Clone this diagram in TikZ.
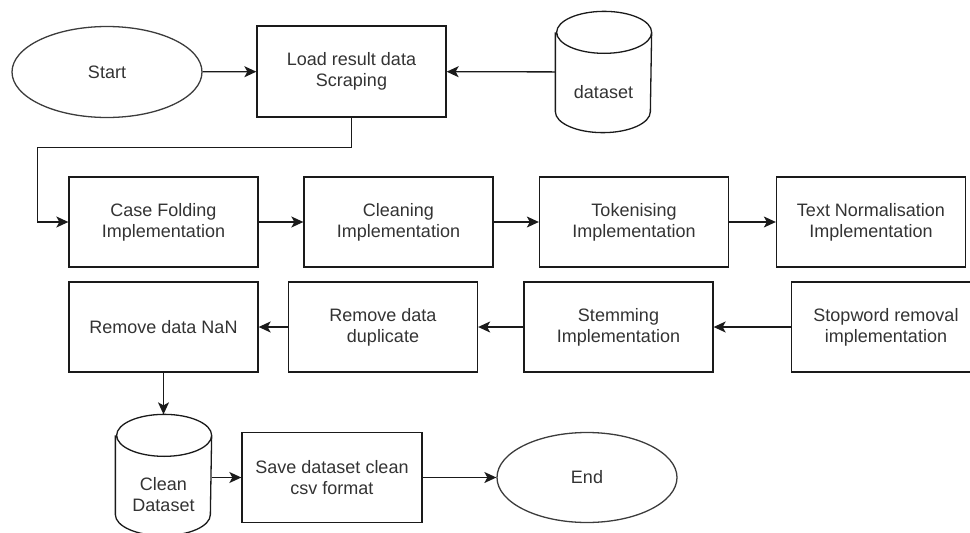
\documentclass[tikz,border=0pt]{standalone}
\usepackage{fontspec}
\setmainfont{Liberation Sans}
\usetikzlibrary{arrows.meta, positioning, shapes.geometric}
\definecolor{cline}{HTML}{1A1A1A}
\definecolor{ctext}{HTML}{333333}
\tikzset{
  every picture/.style={line width=1.3pt},
  box/.style={draw=cline, rectangle, align=center, minimum width=189pt, minimum height=90pt, inner sep=2pt, text=ctext},
  term/.style={draw=cline!85, ellipse, minimum width=190pt, minimum height=91pt, inner sep=0pt, text=ctext},
  db/.style={rectangle, minimum width=95pt, minimum height=120pt, inner sep=0pt},
  dbtext/.style={yshift=-20pt, align=center, text=ctext},
  arrow/.style={-{Stealth[length=12pt, width=11pt, inset=3pt]}, draw=cline},
}

\begin{document}
\begin{tikzpicture}[x=1pt, y=-1pt, every node/.append style={font=\fontsize{18}{21}\selectfont}]
  \path[use as bounding box, clip] (0,0) rectangle (970,533);
  % input
  \node[term] (start) at (107,72) {Start};
  \node[box, minimum height=91pt] (load) at (351.5,71.5) {Load result data\\Scraping};
  \node[db, label={[dbtext]center:dataset}] (data) at (603.5,72) {};
  \draw[arrow] (start) -- (load);
  \draw[arrow] (data) -- (load);
  % preprocessing
  \foreach \n/\x/\t in {cf/163.5/{Case Folding\\Implementation}, cl/398.5/{Cleaning\\Implementation},
      tok/634/{Tokenising\\Implementation}, tn/871/{Text Normalisation\\Implementation}}
    \node[box] (\n) at (\x,222) {\t};
  \foreach \n/\x/\t in {nan/163.5/{Remove data NaN}, dup/383/{Remove data\\duplicate},
      stem/618.5/{Stemming\\Implementation}, stop/886/{Stopword removal\\implementation}}
    \node[box] (\n) at (\x,327) {\t};
  \draw[arrow] (load.south) -- ++(0,30) -| ([xshift=-31pt]cf.west) -- (cf.west);
  \foreach \a/\b in {cf/cl, cl/tok, tok/tn, stop/stem, stem/dup, dup/nan}
    \draw[arrow] (\a) -- (\b);
  % output
  \node[db, label={[dbtext]center:Clean\\Dataset}] (clean) at (163.5,475) {};
  \node[box, minimum width=180pt] (save) at (332,477.5) {Save dataset clean\\csv format};
  \node[term, minimum width=180pt, minimum height=90pt] (end) at (587,477.5) {End};
  \draw[arrow] (nan) -- (clean);
  \draw[arrow] (clean.east |- save.west) -- (save.west);
  \draw[arrow] (save) -- (end);
  % cylinder outlines
  \foreach \c in {data, clean}
    \draw[cline] ([yshift=-21pt]\c.north west) -- ([yshift=21pt]\c.south west)
      arc[start angle=180, end angle=360, x radius=47.5pt, y radius=21pt]
      -- ([yshift=-21pt]\c.north east)
      arc[start angle=0, end angle=180, x radius=47.5pt, y radius=21pt]
      arc[start angle=180, end angle=360, x radius=47.5pt, y radius=21pt];
\end{tikzpicture}
\end{document}
